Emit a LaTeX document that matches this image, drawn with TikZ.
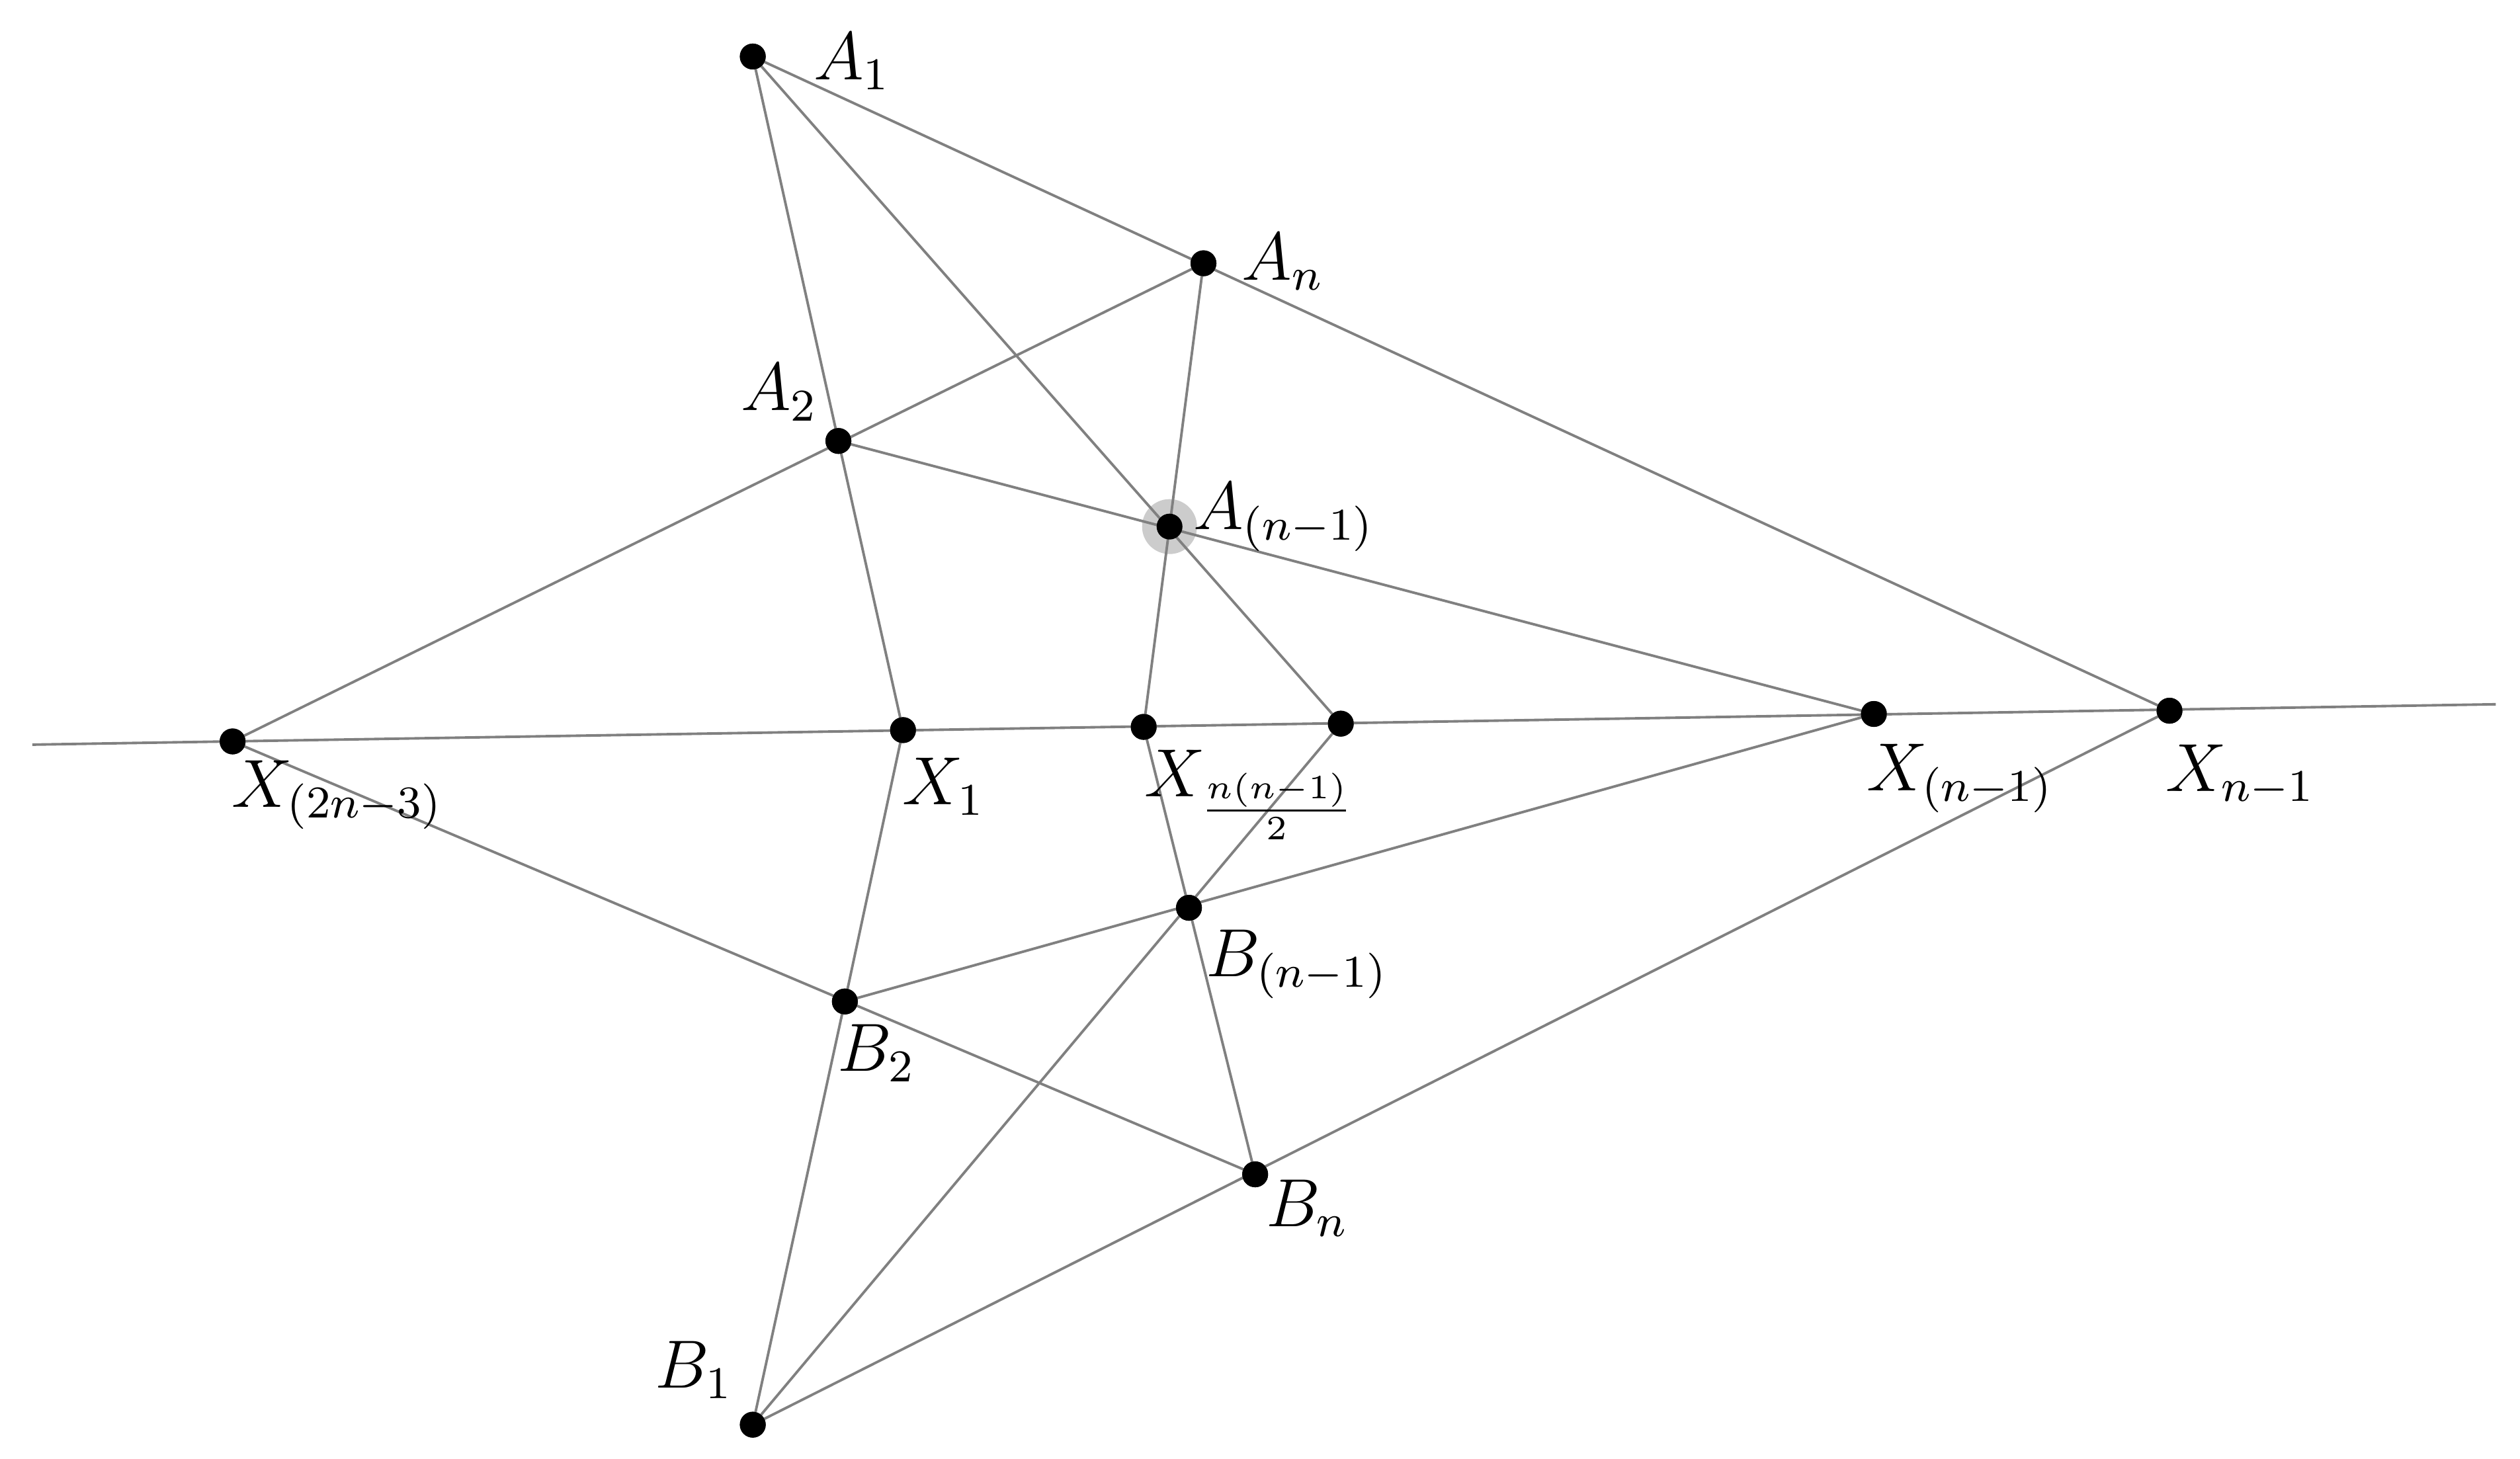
\documentclass[tikz,border=0pt]{standalone}
\begin{document}
\begin{tikzpicture}[x=0.1mm,y=-0.1mm,
  ln/.style={draw=black!50,line width=0.45pt},
  pt/.style={circle,fill=black,inner sep=0pt,minimum size=1.6mm},
  lb/.style={font=\fontsize{11.5}{13}\selectfont,inner sep=0pt}]
\useasboundingbox (0,0) rectangle (1560,903);
\node[pt] (A1) at (466,35) {};
\node[pt] (An) at (745,163) {};
\node[pt] (A2) at (519,273) {};
\node[pt] (Am) at (724,326) {};
\node[pt] (X3) at (144,459) {};
\node[pt] (X1) at (559,452) {};
\node[pt] (Xh) at (708,450) {};
\node[pt] (P) at (830,448) {};
\node[pt] (Xm) at (1160,442) {};
\node[pt] (Xn) at (1343,440) {};
\node[pt] (Bm) at (736,562) {};
\node[pt] (B2) at (523,620) {};
\node[pt] (Bn) at (777,727) {};
\node[pt] (B1) at (466,882) {};
\coordinate (L) at (20,461);
\coordinate (R) at (1545,436);
\fill[black!20] (Am) circle (17);
\draw[ln] (L) -- (R);
\draw[ln] (A1.center) -- (Xn.center);
\draw[ln] (A1.center) -- (A2.center) -- (X1.center) -- (B2.center) -- (B1.center);
\draw[ln] (A1.center) -- (P.center);
\draw[ln] (An.center) -- (X3.center);
\draw[ln] (An.center) -- (Am.center) -- (Xh.center) -- (Bm.center) -- (Bn.center);
\draw[ln] (A2.center) -- (Xm.center);
\draw[ln] (X3.center) -- (Bn.center);
\draw[ln] (B2.center) -- (Xm.center);
\draw[ln] (B1.center) -- (P.center);
\draw[ln] (B1.center) -- (Xn.center);
\foreach \n in {A1,An,A2,Am,X3,X1,Xh,P,Xm,Xn,Bm,B2,Bn,B1} \node[pt] at (\n) {};
\node[lb,anchor=west] at (503,38) {$A_1$};
\node[lb,anchor=west] at (768,162) {$A_n$};
\node[lb,anchor=west] at (458,243) {$A_2$};
\node[lb,anchor=west] at (738,320) {$A_{(n-1)}$};
\node[lb,anchor=west] at (143,492) {$X_{(2n-3)}$};
\node[lb,anchor=west] at (558,487) {$X_1$};
\node[lb,anchor=west] at (708,492) {$X_{\frac{n(n-1)}{2}}$};
\node[lb,anchor=west] at (1155,482) {$X_{(n-1)}$};
\node[lb,anchor=west] at (1340,480) {$X_{n-1}$};
\node[lb,anchor=west] at (746,597) {$B_{(n-1)}$};
\node[lb,anchor=west] at (518,652) {$B_2$};
\node[lb,anchor=west] at (783,748) {$B_n$};
\node[lb,anchor=west] at (405,848) {$B_1$};
\end{tikzpicture}
\end{document}
